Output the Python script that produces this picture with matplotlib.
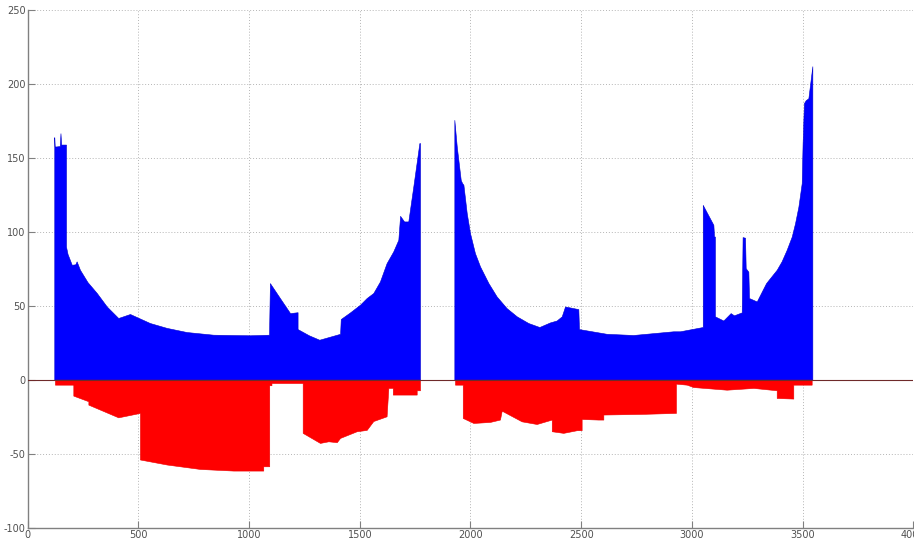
import matplotlib
matplotlib.use("Agg")
import matplotlib.pyplot as plt

# first run: positive part (blue)
blue1_x = [120, 122, 128, 145, 148, 151, 173, 173, 180, 199, 215, 221, 236, 270, 312,
           357, 409, 462, 552, 628, 718, 838, 1004, 1090, 1094, 1140, 1185, 1219, 1219,
           1270, 1317, 1411, 1414, 1456, 1501, 1531, 1561, 1591, 1621, 1651, 1674, 1682,
           1700, 1719, 1742, 1769, 1772]
blue1_y = [164, 157.7, 157.7, 158, 166.7, 159, 159, 90, 85, 77.7, 78, 80, 74.3, 66, 58.6,
           49.5, 41.7, 44.4, 38.3, 35, 32.2, 30.4, 30, 30.4, 65.3, 55, 45, 45.6, 34.2,
           30, 27, 31, 41, 45.5, 50.7, 55.2, 58.6, 66.4, 78.8, 86.7, 94.6, 110.8,
           107, 107, 131, 160, 160]

# first run: negative part (red)
red1_x = [123, 206, 206, 274, 274, 409, 507, 507, 628, 778, 929, 1064, 1064, 1091,
          1091, 1101, 1101, 1242, 1242, 1320, 1358, 1396, 1411, 1486, 1531, 1561, 1621,
          1629, 1649, 1649, 1757, 1757, 1772]
red1_y = [-3.4, -3.4, -10.8, -14.6, -16.9, -25.5, -22.5, -54, -57.4, -60.4, -61.5, -61.5,
          -58.6, -58.6, -3.8, -3.8, -2.3, -2.3, -36, -42.8, -41.7, -42.3, -39.4, -34.9,
          -34, -28, -24.8, -5.6, -5.6, -10.1, -10.1, -7.2, -7.2]

# second run: positive part (blue)
blue2_x = [1927, 1938, 1956, 1962, 1968, 1983, 1998, 2020, 2043, 2081, 2118, 2163, 2209,
           2261, 2311, 2359, 2389, 2412, 2427, 2487, 2490, 2615, 2735, 2916, 2946, 3049,
           3049, 3097, 3100, 3104, 3104, 3142, 3175, 3190, 3225, 3229, 3240, 3243, 3255,
           3258, 3293, 3335, 3353, 3383, 3405, 3428, 3451, 3466, 3481, 3496, 3500, 3506,
           3514, 3526, 3544]
blue2_y = [175.7, 157.6, 135, 133, 131.8, 112.6, 99, 85.6, 76.6, 65.3, 56.3, 48.4, 42.8,
           38.3, 35.6, 38.7, 40, 42.8, 49.5, 47.7, 34.2, 31, 30.2, 32.7, 32.7, 35.6,
           118.2, 104.7, 96.8, 96.8, 42.8, 40, 45, 43.5, 45.5, 96.4, 96, 75.4, 73,
           55.2, 52.9, 65.3, 68.7, 74.3, 80, 87.8, 96.8, 105.9, 117, 132.9, 160, 187,
           189, 190.3, 212]

# second run: negative part (red)
red2_x = [1930, 1965, 1965, 2013, 2088, 2133, 2141, 2231, 2299, 2367, 2367, 2419, 2480,
          2502, 2502, 2577, 2600, 2600, 2766, 2928, 2928, 2977, 3006, 3157, 3278, 3383,
          3383, 3458, 3458, 3541]
red2_y = [-3.4, -3.4, -25.9, -29.3, -28.6, -27, -21, -28.2, -30, -27, -34.9, -36, -34.2,
          -34.2, -26.6, -27, -27, -23.6, -23.2, -22.5, -2.7, -3.4, -5, -6.8, -5.6, -7.2,
          -12.4, -12.8, -3.4, -3.4]

x_ticks = [0, 500, 1000, 1500, 2000, 2500, 3000, 3500, 4000]
y_ticks = [-100, -50, 0, 50, 100, 150, 200, 250]

fig = plt.figure(figsize=(9.14, 5.40), dpi=100)
ax = fig.add_axes([27.7 / 914, 12.5 / 540, 885.6 / 914, 517.5 / 540])

ax.grid(True, color="#b5b5b5", linestyle=(0, (1, 2)), linewidth=0.7, zorder=0)
ax.set_axisbelow(True)

for xs, ys in [(blue1_x, blue1_y), (blue2_x, blue2_y)]:
    ax.fill_between(xs, 0, ys, color="#0000ff", linewidth=0.4,
                    edgecolor="#0000cc", zorder=2)
for xs, ys in [(red1_x, red1_y), (red2_x, red2_y)]:
    ax.fill_between(xs, 0, ys, color="#ff0000", linewidth=0.4,
                    edgecolor="#ee0000", zorder=2)

ax.axhline(0, color="#6e2a2a", linewidth=0.8, zorder=3)

ax.set_xlim(0, 4000)
ax.set_ylim(-100, 250)
ax.set_xticks(x_ticks)
ax.set_yticks(y_ticks)
ax.set_xticklabels([str(v) for v in x_ticks])
ax.set_yticklabels([str(v) for v in y_ticks])

for side in ["top", "right"]:
    ax.spines[side].set_visible(False)
for side in ["left", "bottom"]:
    ax.spines[side].set_color("#808080")
    ax.spines[side].set_linewidth(1.0)

ax.tick_params(direction="in", length=5, width=0.8, color="#808080",
               labelsize=7, labelcolor="#505050", pad=1.5)

fig.savefig("out.png", dpi=100)
